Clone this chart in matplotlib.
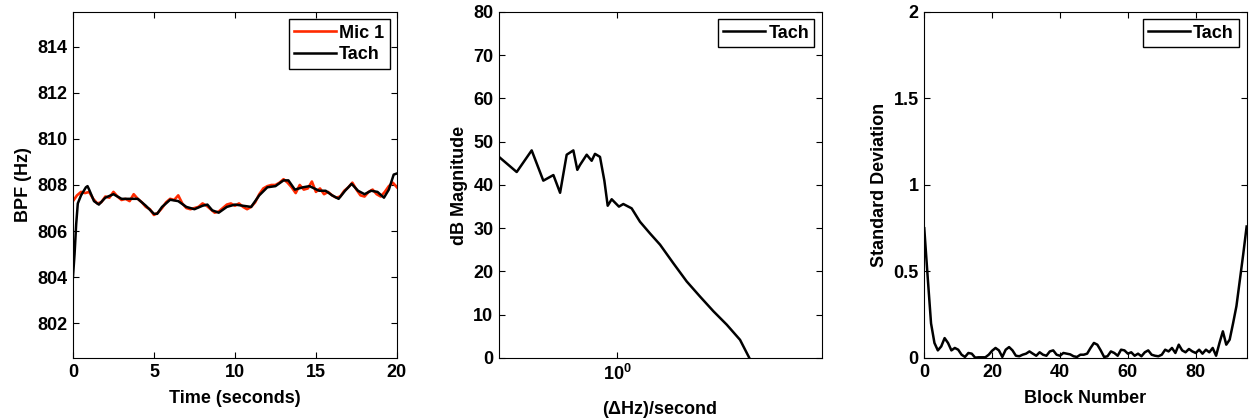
import matplotlib
matplotlib.use('Agg')
import matplotlib.pyplot as plt
import numpy as np

plt.rcParams['font.family'] = ['Liberation Sans', 'DejaVu Sans']
plt.rcParams['font.size'] = 13
plt.rcParams['font.weight'] = 'bold'
plt.rcParams['axes.labelweight'] = 'bold'
plt.rcParams['mathtext.fontset'] = 'custom'
plt.rcParams['mathtext.rm'] = 'Liberation Sans:bold'
plt.rcParams['mathtext.default'] = 'rm'

# --- panel 1: BPF vs time ---
tach_t = [0, 0.1, 0.2, 0.3, 0.5, 0.8, 0.9, 1.0, 1.3, 1.6, 2.0, 2.5, 3.0, 3.5, 4.0,
          4.5, 5.0, 5.2, 5.5, 6.0, 6.5, 7.0, 7.5, 8.0, 8.3, 8.6, 9.0, 9.5, 10.0,
          10.5, 11.0, 11.5, 12.0, 12.5, 13.0, 13.3, 13.7, 14.2, 14.6, 15.2, 15.6,
          16.0, 16.4, 16.8, 17.2, 17.6, 18.0, 18.4, 18.8, 19.2, 19.5, 19.8, 20.0]
tach_bpf = [804.0, 805.0, 806.3, 807.2, 807.55, 807.9, 807.95, 807.8, 807.3, 807.15,
            807.45, 807.6, 807.4, 807.4, 807.4, 807.1, 806.75, 806.75, 807.05, 807.36,
            807.3, 807.05, 806.95, 807.1, 807.15, 806.9, 806.8, 807.05, 807.15, 807.1,
            807.05, 807.55, 807.9, 807.95, 808.2, 808.2, 807.8, 807.9, 807.95, 807.75,
            807.75, 807.55, 807.4, 807.75, 808.05, 807.75, 807.6, 807.75, 807.7, 807.45,
            807.8, 808.45, 808.5]

mic_t = [0, 0.25, 0.5, 0.75, 1.0, 1.25, 1.5, 1.75, 2.0, 2.25, 2.5, 2.75, 3.0, 3.25,
         3.5, 3.75, 4.0, 4.25, 4.5, 4.75, 5.0, 5.25, 5.5, 5.75, 6.0, 6.25, 6.5, 6.75,
         7.0, 7.25, 7.5, 7.75, 8.0, 8.25, 8.5, 8.75, 9.0, 9.25, 9.5, 9.75, 10.0,
         10.25, 10.5, 10.75, 11.0, 11.25, 11.5, 11.75, 12.0, 12.25, 12.5, 12.75,
         13.0, 13.25, 13.5, 13.75, 14.0, 14.25, 14.5, 14.75, 15.0, 15.25, 15.5,
         15.75, 16.0, 16.25, 16.5, 16.75, 17.0, 17.25, 17.5, 17.75, 18.0, 18.25,
         18.5, 18.75, 19.0, 19.25, 19.5, 19.75, 20.0]
mic_bpf = [807.3, 807.55, 807.7, 807.65, 807.7, 807.4, 807.2, 807.25, 807.5, 807.45,
           807.7, 807.5, 807.35, 807.4, 807.3, 807.6, 807.4, 807.25, 807.05, 806.95,
           806.7, 806.8, 807.0, 807.25, 807.4, 807.35, 807.55, 807.2, 807.0, 806.95,
           807.0, 807.05, 807.2, 807.1, 806.95, 806.8, 806.85, 807.0, 807.15, 807.2,
           807.1, 807.2, 807.05, 806.95, 807.05, 807.25, 807.6, 807.85, 807.95, 808.0,
           808.0, 808.1, 808.25, 808.1, 807.9, 807.65, 808.0, 807.8, 807.85, 808.15,
           807.7, 807.85, 807.6, 807.7, 807.55, 807.45, 807.5, 807.75, 807.9, 808.1,
           807.8, 807.55, 807.5, 807.7, 807.8, 807.6, 807.5, 807.7, 807.95, 808.1,
           807.9]

# --- panel 2: spectrum of tach BPF ---
rate = [0.430, 0.488, 0.543, 0.590, 0.634, 0.665, 0.697, 0.731, 0.752, 0.766, 0.804,
        0.833, 0.853, 0.884, 0.912, 0.934, 0.961, 1.012, 1.044, 1.108, 1.176, 1.263,
        1.357, 1.492, 1.641, 1.805, 1.986, 2.184, 2.401, 2.566]
db_mag = [46.5, 43.0, 48.0, 41.0, 42.3, 38.2, 47.0, 48.0, 43.5, 44.6, 47.0, 45.6,
          47.2, 46.5, 41.0, 35.2, 36.7, 35.0, 35.6, 34.6, 31.5, 28.8, 26.2, 21.9,
          17.7, 14.2, 10.8, 7.7, 4.2, 0.0]

# --- panel 3: standard deviation per block ---
block = list(range(96))
std_dev = [0.75, 0.47, 0.20, 0.087, 0.044, 0.067, 0.115, 0.087, 0.044, 0.058,
           0.048, 0.019, 0.006, 0.029, 0.025, 0.002, 0.004, 0.004, 0.004, 0.019,
           0.042, 0.058, 0.044, 0.006, 0.048, 0.063, 0.044, 0.013, 0.010, 0.019,
           0.025, 0.038, 0.025, 0.013, 0.033, 0.019, 0.013, 0.038, 0.044, 0.019,
           0.013, 0.029, 0.025, 0.021, 0.010, 0.006, 0.019, 0.019, 0.025, 0.058,
           0.087, 0.077, 0.044, 0.006, 0.010, 0.038, 0.029, 0.013, 0.048, 0.044,
           0.025, 0.033, 0.013, 0.025, 0.010, 0.033, 0.044, 0.019, 0.013, 0.010,
           0.019, 0.048, 0.038, 0.058, 0.029, 0.077, 0.044, 0.033, 0.052, 0.038,
           0.029, 0.048, 0.025, 0.048, 0.033, 0.058, 0.013, 0.087, 0.154, 0.077,
           0.106, 0.20, 0.30, 0.45, 0.60, 0.76]

fig = plt.figure(figsize=(12.49, 4.19), dpi=100)
ax1 = fig.add_axes([0.0584, 0.1456, 0.2594, 0.8258])
ax2 = fig.add_axes([0.3995, 0.1456, 0.2584, 0.8258])
ax3 = fig.add_axes([0.7400, 0.1456, 0.2581, 0.8258])

def style(ax):
    ax.tick_params(direction='in', top=True, right=True, length=4, width=0.8,
                   labelsize=13, pad=4)
    ax.tick_params(which='minor', length=0)
    for s in ax.spines.values():
        s.set_linewidth(0.8)

leg_kw = dict(loc='upper right', fancybox=False, edgecolor='black', framealpha=1,
              handlelength=2.3, borderpad=0.3, labelspacing=0.25, handletextpad=0.2,
              borderaxespad=0.4, prop={'size': 13, 'weight': 'bold'})

ax1.plot(mic_t, mic_bpf, color='#ff2a00', lw=1.9, label='Mic 1')
ax1.plot(tach_t, tach_bpf, color='black', lw=1.8, label='Tach')
ax1.set_xlim(0, 20)
ax1.set_ylim(800.5, 815.5)
ax1.set_xticks([0, 5, 10, 15, 20])
ax1.set_yticks([802, 804, 806, 808, 810, 812, 814])
ax1.set_xlabel('Time (seconds)', labelpad=7)
ax1.set_ylabel('BPF (Hz)', labelpad=4)
style(ax1)
ax1.legend(**leg_kw)

ax2.plot(rate, db_mag, color='black', lw=1.8, label='Tach')
ax2.set_xscale('log')
ax2.set_xlim(0.43, 4.3)
ax2.set_ylim(0, 80)
ax2.set_xticks([1])
ax2.set_xticklabels([r'$10^{0}$'])
ax2.xaxis.set_minor_locator(matplotlib.ticker.NullLocator())
ax2.set_yticks(range(0, 81, 10))
ax2.set_xlabel(r'($\Delta$Hz)/second', labelpad=11)
ax2.set_ylabel('dB Magnitude', labelpad=4)
style(ax2)
ax2.legend(**leg_kw)

ax3.plot(block, std_dev, color='black', lw=1.8, label='Tach')
ax3.set_xlim(0, 95)
ax3.set_ylim(0, 2)
ax3.set_xticks([0, 20, 40, 60, 80])
ax3.set_yticks([0, 0.5, 1, 1.5, 2])
ax3.set_yticklabels(['0', '0.5', '1', '1.5', '2'])
ax3.set_xlabel('Block Number', labelpad=7)
ax3.set_ylabel('Standard Deviation', labelpad=4)
style(ax3)
ax3.legend(**leg_kw)

fig.savefig('out.png', dpi=100)
